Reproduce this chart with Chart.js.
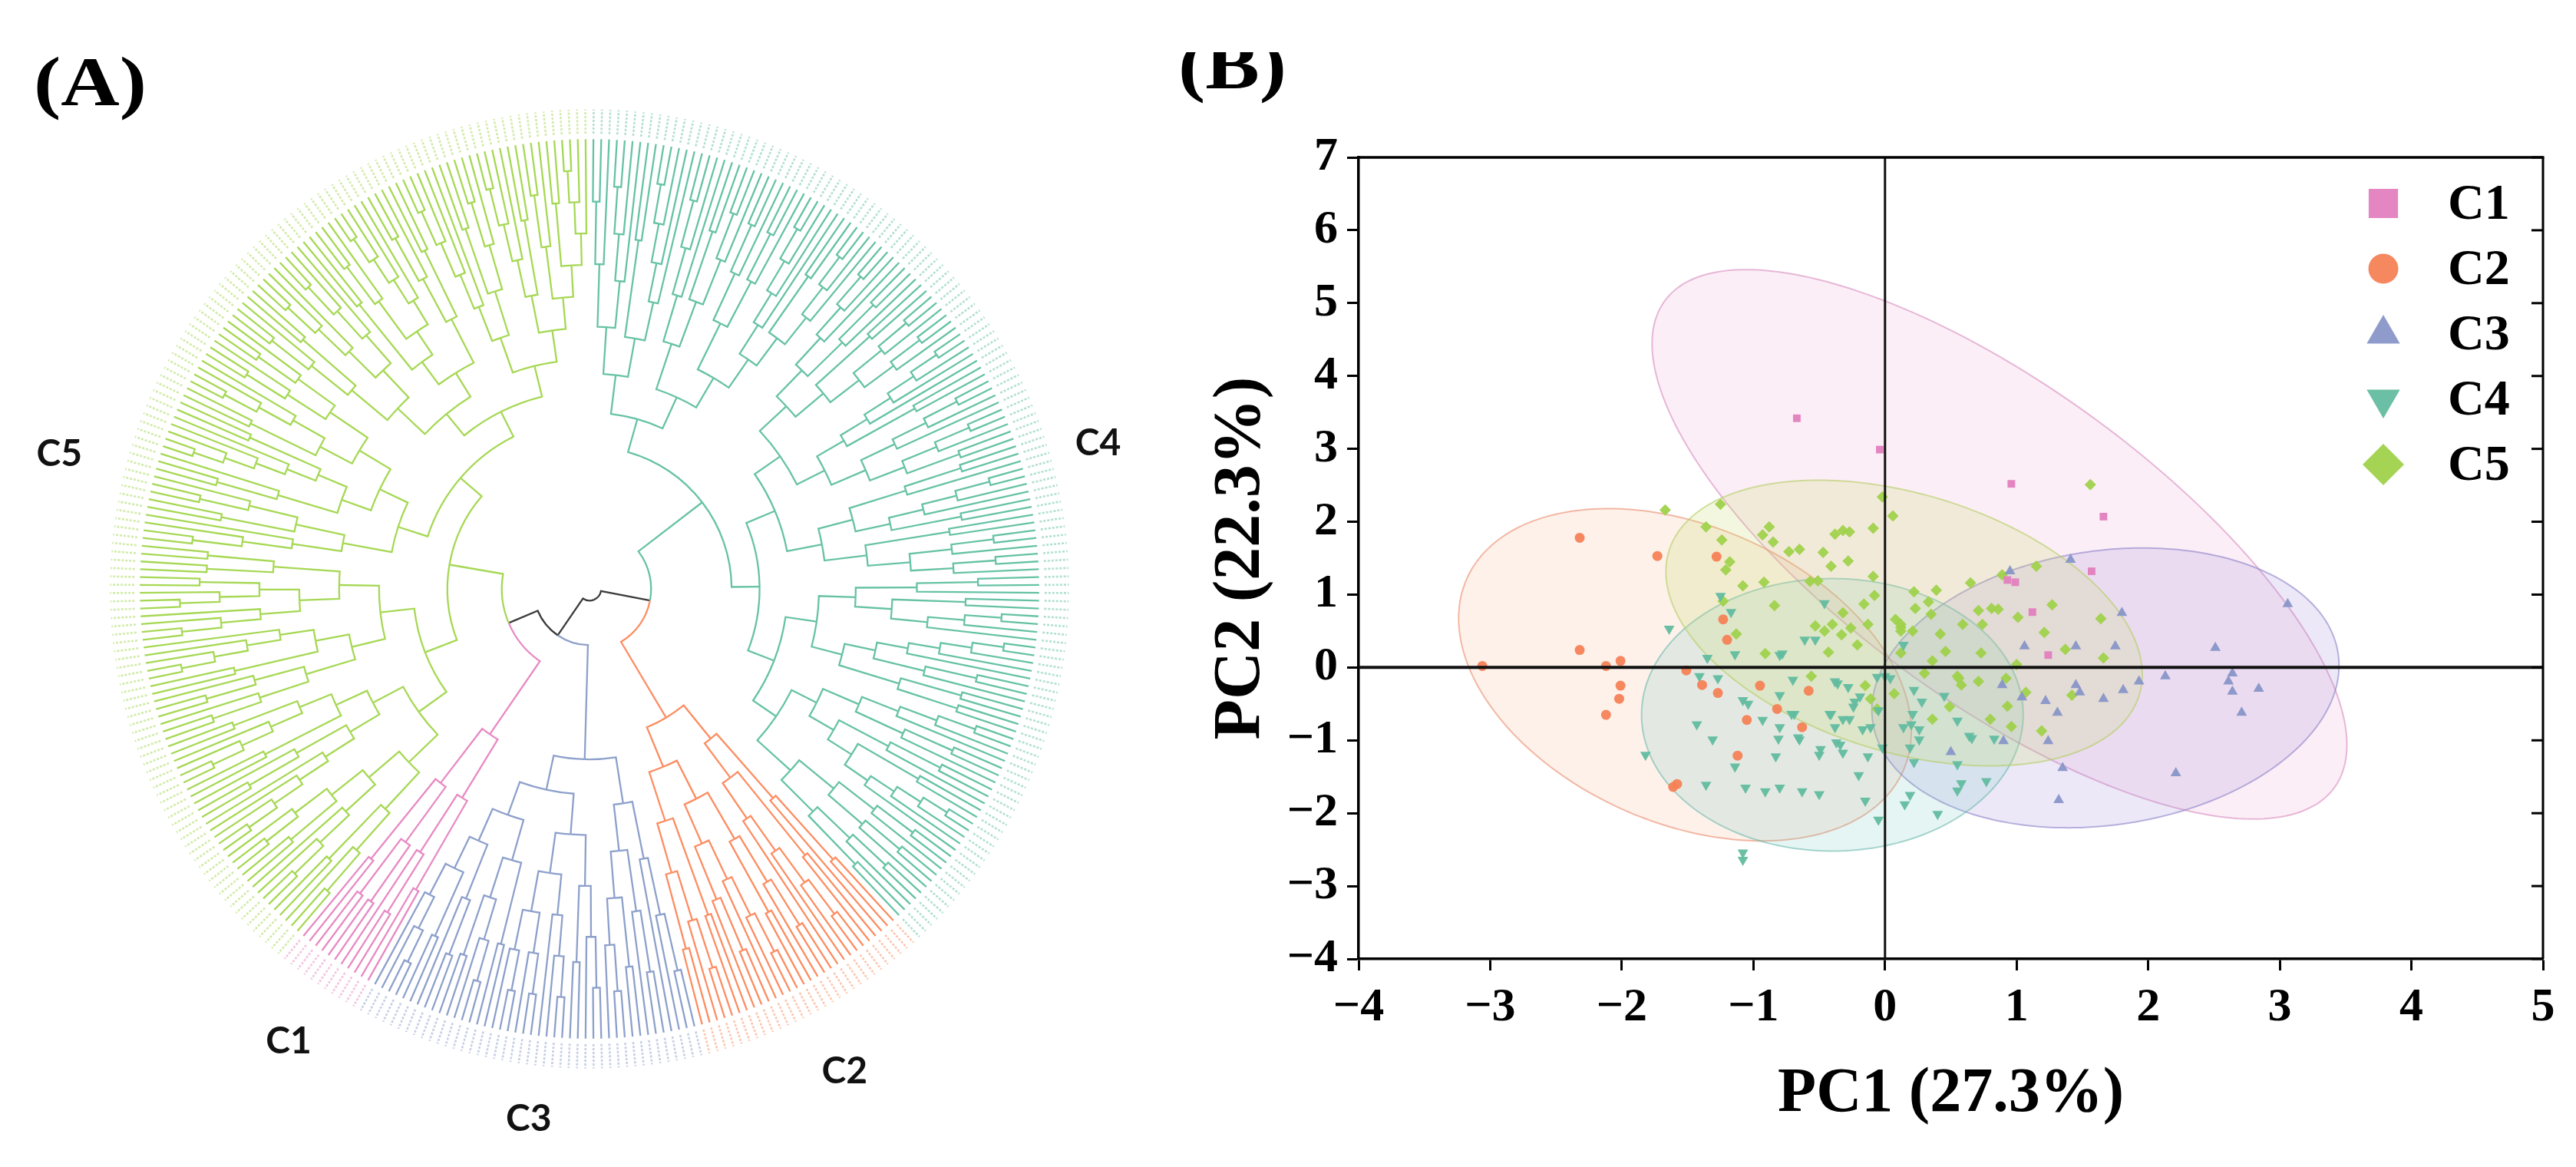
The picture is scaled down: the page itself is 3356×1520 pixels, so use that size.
<!DOCTYPE html>
<html>
<head>
<meta charset="utf-8">
<script src="https://cdn.jsdelivr.net/npm/chart.js@4.4.1/dist/chart.umd.min.js"></script>
<style>
html,body{margin:0;padding:0;background:#ffffff;}
#page{position:relative;width:3356px;height:1520px;overflow:hidden;background:#ffffff;}
canvas{position:absolute;top:0;}
.plab{position:absolute;font-family:"Liberation Serif","Times New Roman",serif;font-weight:700;font-size:92px;line-height:1;white-space:nowrap;transform:scaleX(1.15);transform-origin:0 0;color:#000;}
</style>
</head>
<body>
<div id="page">
  <canvas id="cA" width="1500" height="1520" style="left:0"></canvas>
  <canvas id="cB" width="1856" height="1520" style="left:1500px"></canvas>
  <div class="plab" style="left:44px;top:60px;">(A)</div>
  <div style="position:absolute;left:1525px;top:68px;width:220px;height:110px;overflow:hidden;">
    <div class="plab" style="left:10px;top:-30px;">(B)</div>
  </div>
</div>
<script>
// ================= DATA : panel B (PCA) =================
const seriesNames = ['C1', 'C2', 'C3', 'C4', 'C5'];

const c1Points = [[-0.67,3.42],[-0.04,2.99],[0.96,2.52],[1.66,2.07],[1.57,1.32],[0.99,1.17],[0.93,1.20],[1.12,0.76],[1.24,0.17]];

const c2Points = [[-2.32,1.78],[-1.73,1.53],[-1.28,1.52],[-1.23,0.66],[-2.32,0.24],[-3.06,0.02],[-2.12,0.02],[-2.01,0.09],
  [-2.01,-0.25],[-2.02,-0.43],[-2.12,-0.65],[-1.51,-0.04],[-1.39,-0.24],[-1.27,-0.35],[-1.20,0.38],[-0.95,-0.25],
  [-0.58,-0.32],[-0.82,-0.57],[-1.05,-0.72],[-0.63,-0.82],[-1.12,-1.21],[-1.61,-1.64],[-1.58,-1.60]];

const c3Points = [[1.41,1.48],[1.80,0.75],[3.06,0.87],[0.95,1.32],[1.06,0.29],[1.45,0.29],[1.75,0.29],[2.51,0.27],
  [2.13,-0.12],[2.64,-0.08],[2.61,-0.19],[2.64,-0.33],[2.84,-0.29],[2.71,-0.62],[1.93,-0.19],[1.81,-0.31],
  [1.66,-0.43],[1.45,-0.24],[1.48,-0.34],[1.22,-0.46],[1.31,-0.62],[1.04,-0.41],[0.89,-0.24],[0.90,-1.01],
  [1.24,-1.01],[1.35,-1.38],[2.21,-1.45],[1.32,-1.82],[0.50,-1.16]];

const c4Points = [[-1.25,0.98],[-1.17,0.76],[-1.64,0.53],[-0.46,0.88],
  [-1.82,-1.20],[-1.43,-0.78],[-1.31,-0.99],[-1.35,0.13],[-1.41,-0.12],[-1.27,-0.15],[-1.14,-1.36],[-1.36,-1.61],
  [-1.06,-1.65],[-0.91,-1.70],[-0.80,-1.65],[-0.63,-1.70],[-0.50,-1.74],[-0.83,-1.22],[-0.50,-1.20],[-0.81,-0.98],
  [-0.65,-0.99],[-0.80,-0.82],[-0.93,-0.72],[-1.04,-0.50],[-1.08,-0.45],[-0.71,-0.64],[-0.80,-0.38],[-1.14,0.18],
  [-0.80,0.17],[-0.78,0.19],[-0.61,0.38],[-0.53,0.38],[-0.70,-0.17],[-0.38,-0.19],[-0.28,-0.27],[-0.41,-0.64],
  [-0.32,-0.71],[-0.24,-0.54],[-0.37,-1.03],[-0.32,-1.17],[-0.13,-1.22],[-0.20,-1.48],[-0.15,-1.83],[-0.05,-2.09],
  [-1.08,-2.54],[-1.08,-2.64],[-0.19,-0.40],[-0.11,-0.82],[-0.02,-1.10],
  [0.14,0.31],[0.22,-0.31],[0.28,-0.47],[0.45,-0.39],[0.55,-0.73],[0.21,-0.64],[0.20,-0.78],[0.26,-0.99],
  [0.19,-1.10],[0.64,-0.94],[0.22,-1.30],[0.55,-1.33],[0.58,-1.59],[0.55,-1.69],[0.77,-1.56],[0.19,-1.75],
  [0.15,-1.88],[0.40,-2.01],[0.00,-0.12],[0.14,-0.82],[0.66,-0.97],[0.83,-0.98],
  [-0.36,-0.22],[-0.06,-0.13],[0.04,-0.15],[-0.23,-0.47],[-0.05,-0.59],[-0.69,-0.64],[-0.42,-0.64],[-0.27,-0.71],
  [-0.17,-0.85],[-0.38,-0.82],[0.26,-0.85],[-0.66,-0.96],[-0.34,-1.06],[-0.49,-1.12]];

const c5Points = [[-1.67,2.16],[-1.25,2.24],[-1.36,1.93],[-1.24,1.75],[-0.88,1.93],[-0.93,1.82],[-0.85,1.72],
  [-1.18,1.45],[-1.21,1.34],[-0.73,1.59],[-0.65,1.62],[-0.47,1.58],[-0.41,1.39],[-0.28,1.46],[-0.38,1.83],
  [-0.32,1.88],[-0.27,1.86],[-0.09,1.91],[-0.02,2.34],[0.06,2.08],[-1.08,1.12],[-0.92,1.17],[-0.57,1.18],
  [-0.51,1.19],[-0.09,1.25],[-0.08,0.99],[-0.84,0.85],[-0.16,0.87],[-0.32,0.75],[-0.53,0.57],[-0.40,0.59],
  [-0.26,0.54],[-0.13,0.59],[-1.23,0.91],[-1.13,0.46],[1.56,2.51],[1.15,1.39],[0.89,1.27],[0.65,1.16],
  [0.22,1.04],[0.39,1.06],[1.27,0.86],[0.23,0.81],[0.33,0.90],[0.71,0.78],[0.81,0.81],[0.86,0.80],[1.01,0.69],
  [1.64,0.67],[0.59,0.59],[0.74,0.59],[1.21,0.48],[0.12,0.59],[0.42,0.46],[-0.91,0.19],[-0.43,0.21],
  [-0.56,-0.12],[-0.15,-0.25],[-0.06,-0.57],[1.07,-0.34],[1.42,-0.38],[1.19,-0.87],[0.96,-0.81],[0.80,-0.71],
  [0.93,-0.53],[0.92,-0.15],[1.00,0.04],[1.37,0.25],[1.66,0.13],[0.49,-0.54],[0.36,-0.71],[0.46,0.22],
  [0.73,0.20],[0.56,-0.15],[0.71,-0.19],[0.58,-0.24],[0.30,-0.08],[0.12,0.20],[0.36,0.09],[0.35,0.73],
  [0.08,0.66],[0.12,0.55],[-0.21,0.31],[0.55,-0.12],[0.07,-0.36],[-0.11,-0.43],[-0.46,0.50],[-0.33,0.45],
  [0.21,0.50],[0.12,0.50]];

const xTickLabels = ['\u22124','\u22123','\u22122','\u22121','0','1','2','3','4','5'];
const yTickLabels = ['\u22124','\u22123','\u22122','\u22121','0','1','2','3','4','5','6','7'];

// confidence ellipses: centre, half-extent (x,y), correlation
const ellipseCenters = [[0.87,1.69],[-1.52,-0.10],[1.675,-0.28],[-0.40,-0.65],[0.145,0.61]];
const ellipseSpreads = [[2.64,3.77],[1.72,2.28],[1.775,1.92],[1.45,1.87],[1.81,1.96]];
const ellipseCorr    = [-0.73,-0.34,0.16,0.0,-0.36];

// ================= DATA : panel A (dendrogram) =================
// x = leaf, digit n = ladder of n leaves, @r = node radius (fraction of leaf radius)
const treeC1 = '((2,3),((2,2),2))';
const treeC2 = '((3,(2,5)),(((3,2),(4,3)),(2,(3,2))))';
const treeC3 = '((4,(3,(2,3))),(((3,2),(4,(3,3))),((2,(3,2)),(3,(2,4)))))';
const treeC4 = '((((3,4),(2,5)),((4,(2,3)),((3,3),(5,(2,4))))),(((((4,3),(2,(3,3))),((5,2),(4,(3,2)))),((3,(4,2)),(2,(3,3)))),(((3,(2,4)),((5,3),(2,2))),(((4,3),(3,(2,5))),((3,3),(3,2))))))';
const treeC5 = '(((((3,2),(4,(2,3))),((5,3),(2,(4,2)))),(((3,3),(2,5)),((4,(3,2)),(2,2)))),(((4,(2,3)),((3,(5,2)),((2,4),(3,3)))),((((3,2),(4,4)),((2,(3,5)),(3,2))),((5,(2,3)),((4,2),(3,(2,4)))))))';
const treeTop = '((C4@0.316,C2@0.333)@0.137,(C3@0.379,(C1@0.392,C5@0.316)@0.195)@0.125)@0.026';

// ================= STYLES =================
const clusterColors = {C1:'#E78AC3', C2:'#FC8D62', C3:'#8DA0CB', C4:'#66C2A5', C5:'#A6D854'};
const clusterSoft   = {C1:'rgba(231,138,195,0.5)', C2:'rgba(252,141,98,0.5)', C3:'rgba(141,160,203,0.5)', C4:'rgba(102,194,165,0.5)', C5:'rgba(166,216,84,0.5)'};
const clusterLabelPos = {C1:[-0.669,-1.007], C2:[0.567,-1.072], C3:[-0.135,-1.179], C4:[1.131,0.324], C5:[-1.179,0.300]};
const pointColors = ['rgba(226,128,190,0.95)','rgba(246,130,86,0.95)','rgba(136,150,200,0.95)','rgba(98,188,160,0.95)','rgba(160,210,76,0.95)'];
const pointStyles = ['rect','circle','triangle','triangle','rectRot'];
const pointRots   = [0,0,0,180,0];
const pointRadii  = [7,6.5,8,8,7.5];
const legendRadii = [27,19.5,25,25,27];
const ellipseFill = ['rgba(240,160,210,0.18)','rgba(245,170,130,0.17)','rgba(160,140,215,0.20)','rgba(110,200,190,0.18)','rgba(200,220,110,0.22)'];
const ellipseEdge = ['rgba(215,140,190,0.6)','rgba(235,140,110,0.6)','rgba(140,130,200,0.6)','rgba(100,180,170,0.55)','rgba(180,205,100,0.6)'];
const serif = '"Liberation Serif", "Times New Roman", serif';

// ================= DENDROGRAM =================
const clusterTrees = {C1:treeC1, C2:treeC2, C3:treeC3, C4:treeC4, C5:treeC5};
function parseTree(str){
  let i = 0;
  function readNum(){ const s = i; while (i < str.length && /[0-9.]/.test(str[i])) i++; return parseFloat(str.slice(s, i)); }
  function ladder(k){ let n = {kids:[]}; for (let j = 1; j < k; j++) n = {kids:[n, {kids:[]}]}; return n; }
  function node(){
    let n; const ch = str[i];
    if (ch === '(') { i++; const kids = [node()]; while (str[i] === ',') { i++; kids.push(node()); } i++; n = {kids}; }
    else if (ch === 'x') { i++; n = {kids:[]}; }
    else if (ch === 'C') { i++; const id = 'C' + str[i]; i++; n = parseTree(clusterTrees[id]); n.cluster = id; }
    else { n = ladder(parseInt(ch, 10)); i++; }
    if (str[i] === '@') { i++; n.fixedR = readNum(); }
    return n;
  }
  return node();
}
const treeRoot = parseTree(treeTop);
const leaves = [];
(function collect(n){ if (!n.kids.length) leaves.push(n); n.kids.forEach(collect); })(treeRoot);
const nLeaves = leaves.length;
leaves.forEach((l, i) => { l.theta = 90 - (i + 0.5) * 360 / nLeaves; });
(function heights(n){ if (!n.kids.length) { n.h = 0; return; } n.kids.forEach(heights);
  n.h = 1 + Math.max(...n.kids.map(k => k.h)); n.theta = (n.kids[0].theta + n.kids[n.kids.length - 1].theta) / 2; })(treeRoot);
(function radii(n, pr){ if (!n.kids.length) n.r = 1; else if (n.fixedR != null) n.r = n.fixedR; else n.r = pr + (1 - pr) / (n.h + 1);
  n.kids.forEach(k => radii(k, n.r)); })(treeRoot, 0);
(function colorize(n, c){ if (n.cluster) c = n.cluster; n.col = c; n.kids.forEach(k => colorize(k, c)); })(treeRoot, null);

const D2R = Math.PI / 180;
const dendroPlugin = {
  id: 'dendro',
  afterDatasetsDraw(chart){
    const {ctx, scales:{x: xs, y: ys}} = chart;
    const cx = xs.getPixelForValue(0), cy = ys.getPixelForValue(0);
    const unit = xs.getPixelForValue(1) - cx;
    const P = (r, th) => [xs.getPixelForValue(r * Math.cos(th * D2R)), ys.getPixelForValue(r * Math.sin(th * D2R))];
    ctx.save();
    // faint leaf labels
    ctx.lineWidth = 2.6; ctx.setLineDash([3, 2]);
    leaves.forEach(l => {
      const a = P(1.012, l.theta), b = P(1.066, l.theta);
      ctx.strokeStyle = clusterSoft[l.col]; ctx.beginPath(); ctx.moveTo(a[0], a[1]); ctx.lineTo(b[0], b[1]); ctx.stroke();
    });
    ctx.setLineDash([]);
    // branches
    ctx.lineWidth = 2.3; ctx.lineCap = 'butt'; ctx.lineJoin = 'miter';
    (function walk(n){
      n.kids.forEach(k => {
        ctx.strokeStyle = k.col ? clusterColors[k.col] : '#3a3a3a';
        ctx.beginPath();
        const a0 = -n.theta * D2R, a1 = -k.theta * D2R;
        ctx.arc(cx, cy, n.r * unit, a0, a1, a1 < a0);
        const p = P(k.r, k.theta); ctx.lineTo(p[0], p[1]);
        ctx.stroke();
        walk(k);
      });
    })(treeRoot);
    // cluster labels
    ctx.fillStyle = '#111'; ctx.font = 'bold 48px Lato, "Open Sans", sans-serif';
    ctx.textAlign = 'center'; ctx.textBaseline = 'middle';
    seriesNames.forEach(nm => {
      const pos = clusterLabelPos[nm];
      ctx.fillText(nm, xs.getPixelForValue(pos[0]), ys.getPixelForValue(pos[1]));
    });
    ctx.restore();
  }
};

new Chart(document.getElementById('cA'), {
  type: 'scatter',
  data: {datasets: [{data: []}]},
  options: {
    responsive: false, animation: false, events: [],
    layout: {padding: {left: 41.5, right: 5.5, top: 40.5, bottom: 26.5}},
    plugins: {legend: {display: false}, tooltip: {enabled: false}},
    scales: {
      x: {type: 'linear', display: false, min: -1.24, max: 1.24},
      y: {type: 'linear', display: false, min: -1.24, max: 1.24}
    }
  },
  plugins: [dendroPlugin]
});

// ================= PCA =================
function drawMarker(ctx, style, rot, x, y, r){
  ctx.beginPath();
  if (style === 'rect') { const s = Math.SQRT1_2 * r; ctx.rect(x - s, y - s, 2 * s, 2 * s); }
  else if (style === 'circle') { ctx.arc(x, y, r, 0, 2 * Math.PI); }
  else if (style === 'rectRot') { ctx.moveTo(x - r, y); ctx.lineTo(x, y - r); ctx.lineTo(x + r, y); ctx.lineTo(x, y + r); ctx.closePath(); }
  else { let a = rot * D2R; ctx.moveTo(x + Math.sin(a) * r, y - Math.cos(a) * r);
    a += 2 * Math.PI / 3; ctx.lineTo(x + Math.sin(a) * r, y - Math.cos(a) * r);
    a += 2 * Math.PI / 3; ctx.lineTo(x + Math.sin(a) * r, y - Math.cos(a) * r); ctx.closePath(); }
  ctx.fill();
}

const ellipsePlugin = {
  id: 'ellipses',
  beforeDatasetsDraw(chart){
    const {ctx, chartArea: a, scales:{x, y}} = chart;
    ctx.save(); ctx.beginPath(); ctx.rect(a.left, a.top, a.right - a.left, a.bottom - a.top); ctx.clip();
    ellipseCenters.forEach((c, i) => {
      const sx = ellipseSpreads[i][0], sy = ellipseSpreads[i][1], r = ellipseCorr[i], q = Math.sqrt(1 - r * r);
      ctx.beginPath();
      for (let k = 0; k <= 240; k++) {
        const t = k / 240 * 2 * Math.PI;
        const px = x.getPixelForValue(c[0] + sx * Math.cos(t));
        const py = y.getPixelForValue(c[1] + sy * (r * Math.cos(t) + q * Math.sin(t)));
        if (k) ctx.lineTo(px, py); else ctx.moveTo(px, py);
      }
      ctx.closePath();
      ctx.fillStyle = ellipseFill[i]; ctx.fill();
      ctx.strokeStyle = ellipseEdge[i]; ctx.lineWidth = 2; ctx.stroke();
    });
    ctx.restore();
  }
};

const framePlugin = {
  id: 'frame',
  afterDatasetsDraw(chart){
    const {ctx, chartArea: a, scales:{x, y}} = chart;
    ctx.save(); ctx.strokeStyle = '#111'; ctx.lineCap = 'butt';
    const y0 = y.getPixelForValue(0), x0 = x.getPixelForValue(0);
    ctx.lineWidth = 4; ctx.beginPath(); ctx.moveTo(a.left, y0); ctx.lineTo(a.right, y0); ctx.stroke();
    ctx.lineWidth = 3; ctx.beginPath(); ctx.moveTo(x0, a.top); ctx.lineTo(x0, a.bottom); ctx.stroke();
    ctx.strokeStyle = '#000';
    ctx.lineWidth = 3.5; ctx.beginPath(); ctx.moveTo(a.left - 1.5, a.top); ctx.lineTo(a.right + 1.5, a.top); ctx.stroke();
    ctx.lineWidth = 3; ctx.beginPath(); ctx.moveTo(a.right, a.top); ctx.lineTo(a.right, a.bottom); ctx.stroke();
    ctx.lineWidth = 3;
    yTickLabels.forEach((lab, i) => {
      const py = y.getPixelForValue(-4 + i);
      ctx.beginPath(); ctx.moveTo(a.right - 15, py); ctx.lineTo(a.right, py); ctx.stroke();
    });
    ctx.restore();
  },
  afterDraw(chart){
    const {ctx} = chart;
    ctx.save();
    seriesNames.forEach((nm, i) => {
      const ly = 265 + i * 85;
      ctx.fillStyle = pointColors[i];
      drawMarker(ctx, pointStyles[i], pointRots[i], 1605, ly, legendRadii[i]);
      ctx.fillStyle = '#000'; ctx.font = 'bold 66px ' + serif; ctx.textAlign = 'left'; ctx.textBaseline = 'middle';
      ctx.fillText(nm, 1689, ly + 3);
    });
    ctx.restore();
  }
};

const allPoints = [c1Points, c2Points, c3Points, c4Points, c5Points];
new Chart(document.getElementById('cB'), {
  type: 'scatter',
  data: {
    datasets: seriesNames.map((nm, i) => ({
      label: nm,
      data: allPoints[i].map(p => ({x: p[0], y: p[1]})),
      pointStyle: pointStyles[i], pointRotation: pointRots[i], pointRadius: pointRadii[i],
      pointBackgroundColor: pointColors[i], pointBorderColor: pointColors[i], pointBorderWidth: 0
    }))
  },
  options: {
    responsive: false, animation: false, events: [],
    layout: {padding: {left: 0, right: 43, top: 205, bottom: 0}},
    plugins: {legend: {display: false}, tooltip: {enabled: false}},
    scales: {
      x: {
        type: 'linear', min: -4, max: 5,
        afterFit(s){ s.height = 271; },
        ticks: {stepSize: 1, autoSkip: false, padding: 12, color: '#000', maxRotation: 0,
          font: {family: serif, size: 62, weight: 'bold'},
          callback: (v) => xTickLabels[Math.round(v + 4)]},
        grid: {drawOnChartArea: false, drawTicks: true, tickLength: 15, tickWidth: 3, tickColor: '#000'},
        border: {display: true, color: '#000', width: 3.5},
        title: {display: true, text: 'PC1 (27.3%)', color: '#000', font: {family: serif, size: 82, weight: 'bold'}, padding: {top: 0, bottom: 45}}
      },
      y: {
        type: 'linear', min: -4, max: 7,
        afterFit(s){ s.width = 270; },
        ticks: {stepSize: 1, autoSkip: false, padding: 12, color: '#000',
          font: {family: serif, size: 62, weight: 'bold'},
          callback: (v) => yTickLabels[Math.round(v + 4)]},
        grid: {drawOnChartArea: false, drawTicks: true, tickLength: 15, tickWidth: 3, tickColor: '#000'},
        border: {display: true, color: '#000', width: 3.5},
        title: {display: true, text: 'PC2 (22.3%)', color: '#000', font: {family: serif, size: 86, weight: 'bold'}, padding: {top: 66, bottom: 0}}
      }
    }
  },
  plugins: [ellipsePlugin, framePlugin]
});
</script>
</body>
</html>
